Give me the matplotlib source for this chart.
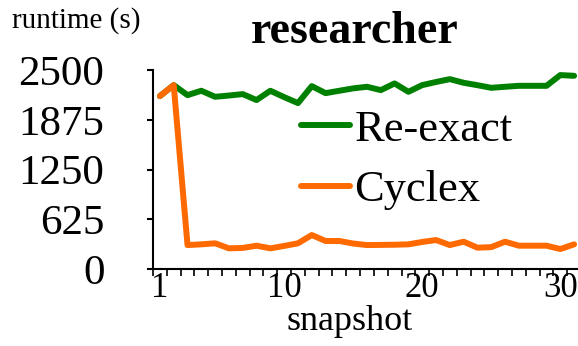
import matplotlib
matplotlib.use("Agg")
import matplotlib.pyplot as plt

plt.rcParams['font.family'] = ['Liberation Serif', 'DejaVu Serif']

snapshots = list(range(1, 32))
re_exact = [2173, 2311, 2185, 2240, 2164, 2180, 2198, 2123, 2240, 2160,
            2085, 2298, 2210, 2240, 2270, 2290, 2248, 2332, 2227, 2311,
            2350, 2386, 2340, 2310, 2277, 2290, 2302, 2302, 2302, 2437, 2428]
cyclex = [2173, 2311, 301, 310, 323, 260, 265, 293, 260, 290,
          323, 427, 352, 352, 320, 301, 303, 305, 310, 340,
          364, 301, 343, 268, 275, 343, 293, 293, 293, 251, 310]
yticks = [0, 625, 1250, 1875, 2500]
xticks = [1, 10, 20, 30]

fig = plt.figure(figsize=(5.78, 3.46), dpi=100)
ax = fig.add_axes([0.2647, 0.2225, 0.7405, 0.575])

ax.plot(snapshots, re_exact, color='#008000', lw=4.3, label='Re-exact',
        solid_capstyle='round', solid_joinstyle='round')
ax.plot(snapshots, cyclex, color='#ff6a00', lw=4.3, label='Cyclex',
        solid_capstyle='round', solid_joinstyle='round')

ax.set_xlim(0.5, 31.5)
ax.set_ylim(0, 2500)
ax.set_yticks(yticks)
ax.set_xticks(xticks)
ax.set_xticks([i + 0.5 for i in range(0, 32)], minor=True)

for s in ['top', 'right']:
    ax.spines[s].set_visible(False)
for s in ['left', 'bottom']:
    ax.spines[s].set_linewidth(1.5)

ax.tick_params(axis='y', which='major', direction='out', length=4, width=1.5,
               labelsize=31, pad=31)
ax.tick_params(axis='x', which='major', length=0, labelsize=25, pad=2)
ax.tick_params(axis='x', which='minor', direction='out', length=5, width=1.2)

ax.set_xlabel('snapshot', fontsize=26)
ax.xaxis.set_label_coords(0.46, -0.18)
ax.xaxis.label.set_va('top')

fig.text(12 / 578, 1 - 21 / 346, 'runtime (s)', fontsize=21, va='center', ha='left')
fig.text(355 / 578, 1 - 32 / 346, 'researcher', fontsize=33, fontweight='bold',
         va='center', ha='center')

ax.legend(loc='center', bbox_to_anchor=(0.593, 0.548), frameon=False, fontsize=32,
          handlelength=1.1, handletextpad=0.1, labelspacing=0.45, borderpad=0)

fig.savefig('out.png', dpi=100)
